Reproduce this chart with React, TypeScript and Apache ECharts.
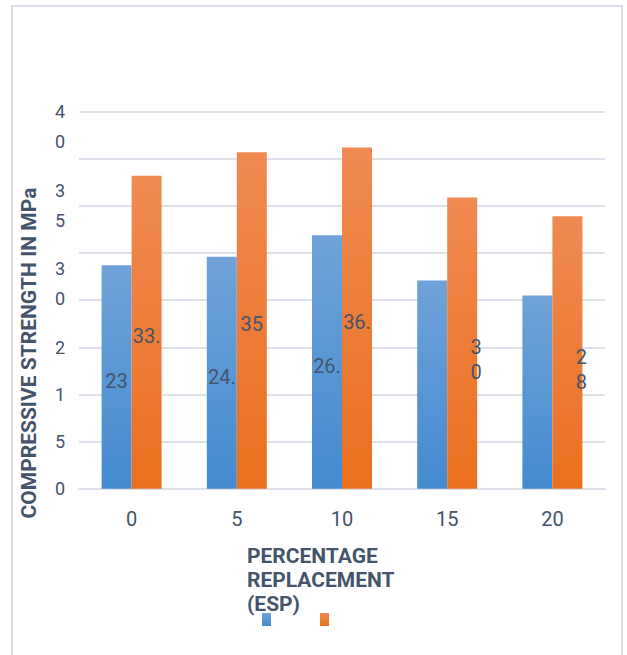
import React, { useEffect, useRef } from "react";
import * as echarts from "echarts";

const categories = ["0", "5", "10", "15", "20"];
const seriesNames = ["Series1", "Series2"];
const blueValues = [23.7, 24.6, 26.9, 22.1, 20.5];
const orangeValues = [33.2, 35.7, 36.2, 30.9, 28.9];
const blueLabels = ["23", "24.", "26.", "", ""];
const orangeLabels = ["33.", "35", "36.", "3\n0", "2\n8"];
// tick labels for y ticks 0,5,...,40 (as they appear, wrapped)
const yTickLabels = ["0", "5", "1", "2", "", "\n\n3\n0", "3\n5", "", "\n4\n0"];
const yTitle = "COMPRESSIVE STRENGTH IN MPa";
const xTitle = "PERCENTAGE\nREPLACEMENT\n(ESP)";

const TEXT = "#44546A";
const FONT = "Roboto";

export default function App() {
  const ref = useRef<HTMLDivElement>(null);
  useEffect(() => {
    if (!ref.current) return;
    const chart = echarts.init(ref.current, null, { renderer: "svg" });
    const blueGrad = new echarts.graphic.LinearGradient(0, 0, 0, 1, [
      { offset: 0, color: "#6FA2D8" },
      { offset: 1, color: "#448BD0" },
    ]);
    const orangeGrad = new echarts.graphic.LinearGradient(0, 0, 0, 1, [
      { offset: 0, color: "#F08A52" },
      { offset: 1, color: "#E9701E" },
    ]);
    const wrappedOffsets: Record<number, number[]> = { 3: [14, 16], 4: [14, 17] };
    chart.setOption({
      animation: false,
      backgroundColor: "#ffffff",
      textStyle: { fontFamily: FONT },
      grid: { left: 79, right: 22, top: 111.7, bottom: 166.3, containLabel: false },
      title: {
        text: xTitle,
        left: 242,
        top: 539,
        textStyle: {
          fontFamily: FONT,
          fontSize: 21,
          fontWeight: "bold",
          color: TEXT,
          lineHeight: 24,
        },
      },
      legend: {
        data: seriesNames,
        left: 257,
        top: 608,
        itemWidth: 9,
        itemHeight: 13,
        itemGap: 49,
        icon: "rect",
        formatter: () => "",
        selectedMode: false,
      },
      xAxis: {
        type: "category",
        data: categories,
        axisLine: { show: true, lineStyle: { color: "#DDE1EA", width: 2 } },
        axisTick: { show: false },
        axisLabel: { fontSize: 20, color: TEXT, margin: 20, fontFamily: FONT },
      },
      yAxis: {
        type: "value",
        min: 0,
        max: 40,
        interval: 5,
        axisLine: { show: false },
        axisTick: { show: false },
        splitLine: { lineStyle: { color: "#DDE1EA", width: 2 } },
        axisLabel: {
          fontSize: 18,
          color: TEXT,
          margin: 14,
          lineHeight: 30,
          fontFamily: FONT,
          formatter: (v: number) => yTickLabels[Math.round(v / 5)] ?? "",
        },
      },
      series: [
        {
          name: seriesNames[0],
          type: "bar",
          barWidth: 30,
          barGap: "0%",
          itemStyle: { color: blueGrad },
          data: blueValues.map((v, i) => ({
            value: v,
            label: {
              show: blueLabels[i] !== "",
              formatter: blueLabels[i],
            },
          })),
          label: {
            position: "inside",
            offset: [0, 4],
            fontSize: 20,
            color: TEXT,
            fontFamily: FONT,
          },
        },
        {
          name: seriesNames[1],
          type: "bar",
          barWidth: 30,
          barGap: "0%",
          itemStyle: { color: orangeGrad },
          data: orangeValues.map((v, i) => ({
            value: v,
            label: {
              show: true,
              formatter: orangeLabels[i],
              offset: wrappedOffsets[i] ?? [0, 4],
              lineHeight: 25,
            },
          })),
          label: {
            position: "inside",
            fontSize: 20,
            color: TEXT,
            fontFamily: FONT,
          },
        },
      ],
      graphic: [
        {
          type: "rect",
          shape: { x: 12, y: 6, width: 610, height: 680 },
          style: { fill: "none", stroke: "#D9DEE8", lineWidth: 2 },
          silent: true,
        },
        {
          type: "text",
          x: 29,
          y: 353,
          rotation: Math.PI / 2,
          style: {
            text: yTitle,
            align: "center",
            verticalAlign: "middle",
            fontFamily: FONT,
            fontSize: 21,
            fontWeight: "bold",
            fill: TEXT,
          },
        },
      ],
    });
    return () => chart.dispose();
  }, []);
  return (
    <div
      ref={ref}
      style={{ position: "fixed", left: 0, top: 0, width: 627, height: 655 }}
    />
  );
}
